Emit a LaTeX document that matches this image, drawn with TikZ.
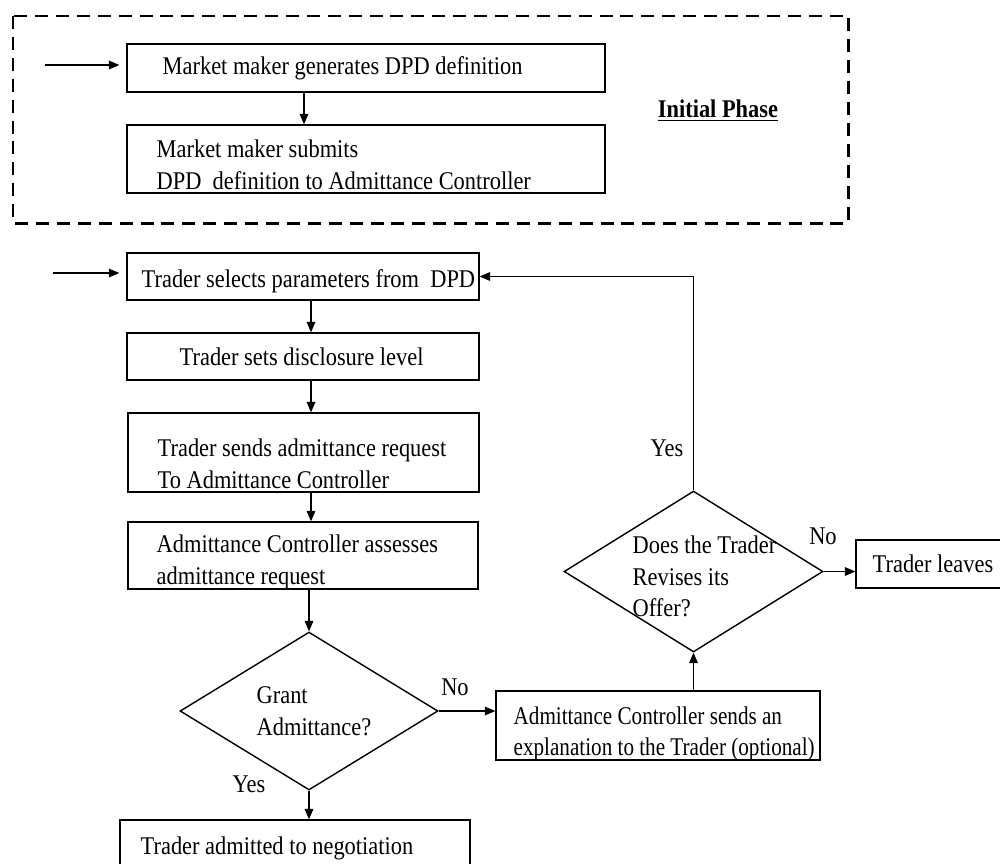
\documentclass[tikz,border=0pt]{standalone}
\usepackage{fontspec}
\setmainfont{Liberation Serif}[FakeStretch=0.88]
\newfontfamily\tightfont{Liberation Serif}[FakeStretch=0.83]
\usetikzlibrary{arrows.meta,shapes.geometric,calc}

\tikzset{
  box/.style={draw, line width=0.8pt, inner sep=0pt},
  dec/.style={draw, diamond, line width=0.8pt, inner sep=0pt},
  txt/.style={font=\fontsize{14.5}{18}\selectfont, align=left, inner sep=0pt, anchor=west},
  arr/.style={line width=0.6pt, -{Triangle[length=6pt,width=5pt]}},
}

\begin{document}
\begin{tikzpicture}[x=0.02cm, y=-0.02cm]
    \useasboundingbox (0,0) rectangle (1000,863);
    \clip (0,0) rectangle (1000,863);

    \draw[line width=1.7pt, dash pattern=on 7.4pt off 4.5pt] (13,16) rectangle (848,223);

    \coordinate (inA) at (45,65);
    \coordinate (inC) at (53,273);
    \coordinate (ab) at (304,0);
    \coordinate (mid) at (311,0);

    \node (A) [box, minimum width=9.56cm, minimum height=0.96cm] at (366,68) {};
    \node (B) [box, minimum width=9.56cm, minimum height=1.36cm] at (366,159) {};
    \node (tA) [txt] at ([xshift=0.72cm]A.west) {Market maker generates DPD definition};
    \node (tB) [txt] at ([xshift=0.6cm,yshift=-0.12cm]B.west) {Market maker submits\\DPD~ definition to Admittance Controller};
    \node (phase) [txt, anchor=center] at (718,111) {\underline{\textbf{Initial Phase}}};

    \node (C) [box, minimum width=7.04cm, minimum height=0.94cm] at (303,276.5) {};
    \node (D) [box, minimum width=7.04cm, minimum height=0.94cm] at (303,356.5) {};
    \node (E) [box, minimum width=7.02cm, minimum height=1.58cm] at (303.5,452.5) {};
    \node (F) [box, minimum width=7cm, minimum height=1.34cm] at (303,555.5) {};
    \node (G) [dec, minimum width=5.16cm, minimum height=3.16cm] at (309,711) {};
    \node (H) [box, minimum width=6.48cm, minimum height=1.38cm] at (658,725.5) {};
    \node (I) [dec, minimum width=5.18cm, minimum height=3.22cm] at (693.5,571.5) {};
    \node (J) [box, minimum width=3.48cm, minimum height=0.96cm] at (943,564) {};
    \node (K) [box, minimum width=7cm, minimum height=1.4cm] at (295,855) {};

    \node (tC) [txt] at ([xshift=0.3cm,yshift=-0.09cm]C.west) {Trader selects parameters from~ DPD};
    \node (tD) [txt] at ([xshift=1.06cm]D.west) {Trader sets disclosure level};
    \node (tE) [txt] at ([xshift=0.6cm,yshift=-0.22cm]E.west) {Trader sends admittance request\\To Admittance Controller};
    \node (tF) [txt] at ([xshift=0.58cm,yshift=-0.14cm]F.west) {Admittance Controller assesses\\admittance request};
    \node (tG) [txt] at ([xshift=1.54cm]G.west) {Grant\\Admittance?};
    \node (tH) [txt, font=\tightfont\fontsize{14.5}{18}\selectfont] at ([xshift=0.36cm,yshift=-0.17cm]H.west) {Admittance Controller sends an\\explanation to the Trader (optional)};
    \node (tI) [txt] at ([xshift=1.38cm,yshift=-0.1cm]I.west) {Does the Trader\\Revises its\\Offer?};
    \node (tJ) [txt] at ([xshift=0.34cm]J.west) {Trader leaves};
    \node (tK) [txt] at ([xshift=0.42cm,yshift=0.14cm]K.west) {Trader admitted to negotiation};

    \node (no1) [txt, anchor=center] at (455,687) {No};
    \node (yes1) [txt, anchor=center] at (249,784) {Yes};
    \node (no2) [txt, anchor=center] at (823,536) {No};
    \node (yes2) [txt, anchor=center] at (667,448) {Yes};

    \draw[arr, shorten >=0.14cm] (inA) -- (inA -| A.west);
    \draw[arr] (A.south -| ab) -- (B.north -| ab);
    \draw[arr, shorten >=0.14cm] (inC) -- (inC -| C.west);
    \draw[arr] (C.south -| mid) -- (D.north -| mid);
    \draw[arr] (D.south -| mid) -- (E.north -| mid);
    \draw[arr] (E.south -| mid) -- (F.north -| mid);
    \draw[arr] (F.south -| G.north) -- (G.north);
    \draw[arr] (G.east) -- (G.east -| H.west);
    \draw[arr] (G.south) -- (G.south |- K.north);
    \draw[arr] (H.north -| I.south) -- (I.south);
    \draw[arr] (I.east) -- (I.east -| J.west);
    \draw[arr] (I.north) |- (C.east);

\end{tikzpicture}
\end{document}
